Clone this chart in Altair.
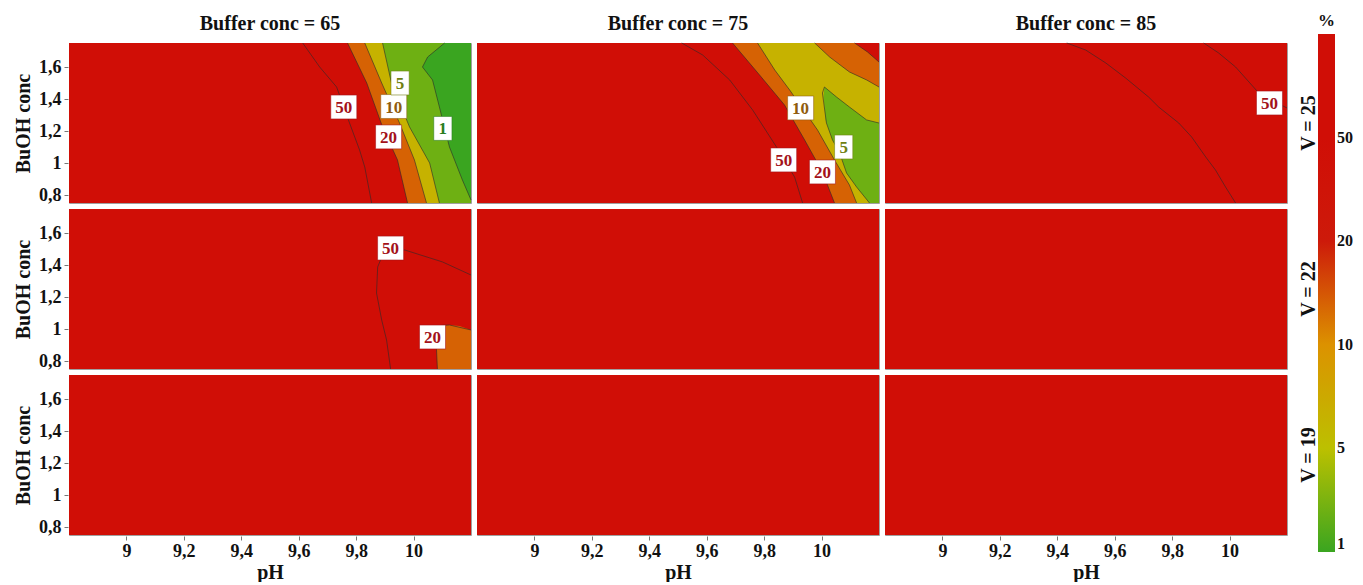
import altair as alt
import pandas as pd

FONT = "Liberation Serif"
X_MIN, X_MAX = 8.8, 10.2
Y_MIN, Y_MAX = 0.75, 1.75

BUFFERS = [65, 75, 85]
VOLS = [25, 22, 19]

X_TICKS = [9, 9.2, 9.4, 9.6, 9.8, 10]
Y_TICKS = [0.8, 1, 1.2, 1.4, 1.6]

# legend: percent stops shown with equal spacing
LEGEND_LABELS = ["1", "5", "10", "20", "50"]
STOP_COLORS = ["#3aa520", "#bcc000", "#dc9200", "#cd1a0a", "#d00e06", "#d00e06"]

LEVELS = ["1", "5", "10", "20", "50"]
LABEL_COLORS = ["#2a7d1e", "#6f7f12", "#8f5c0e", "#a3121a", "#a3121a"]

# representative % value of each filled band
BAND_ABOVE20 = 80
BAND_10_20 = 14
BAND_5_10 = 6.5
BAND_1_5 = 2.6
BAND_BELOW1 = 1

# ---- V = 25, Buffer conc = 65 : contour lines (pH, BuOH)
B65V25_C50_PH = [9.614, 9.673, 9.732, 9.777, 9.812, 9.830, 9.854]
B65V25_C50_BU = [1.75, 1.60, 1.475, 1.25, 1.081, 0.975, 0.75]
B65V25_C20_PH = [9.770, 9.837, 9.892, 9.944, 9.979]
B65V25_C20_BU = [1.75, 1.50, 1.225, 1.019, 0.75]
B65V25_C10_PH = [9.830, 9.889, 9.951, 10.003, 10.045]
B65V25_C10_BU = [1.75, 1.50, 1.25, 1.019, 0.75]
B65V25_C5_PH = [9.892, 9.923, 9.986, 10.056, 10.090]
B65V25_C5_BU = [1.75, 1.50, 1.225, 1.0, 0.75]
B65V25_C1_PH = [10.108, 10.049, 10.031, 10.066, 10.090, 10.125, 10.170, 10.2]
B65V25_C1_BU = [1.75, 1.6625, 1.60, 1.519, 1.35, 1.10, 0.894, 0.769]

# ---- V = 25, Buffer conc = 75
B75V25_C50_PH = [9.513, 9.586, 9.680, 9.760, 9.843, 9.906, 9.934]
B75V25_C50_BU = [1.75, 1.675, 1.519, 1.331, 1.10, 0.9125, 0.75]
B75V25_C20_PH = [9.690, 9.784, 9.871, 9.941, 10.003, 10.045]
B75V25_C20_BU = [1.75, 1.55, 1.3625, 1.144, 0.944, 0.75]
B75V25_C10_PH = [9.777, 9.837, 9.889, 9.930, 9.986, 10.045, 10.097, 10.122]
B75V25_C10_BU = [1.75, 1.581, 1.456, 1.35, 1.206, 1.019, 0.8625, 0.75]
B75V25_C5_PH = [10.2, 10.157, 10.097, 10.052, 10.010, 10.003, 10.017, 10.038, 10.063, 10.087, 10.122, 10.167]
B75V25_C5_BU = [1.25, 1.269, 1.35, 1.4125, 1.475, 1.4375, 1.25, 1.144, 1.0625, 0.9375, 0.85, 0.75]
B75V25_C10R_PH = [9.976, 10.028, 10.097, 10.157, 10.2]
B75V25_C10R_BU = [1.75, 1.6625, 1.569, 1.519, 1.475]
B75V25_C20R_PH = [10.115, 10.160, 10.2]
B75V25_C20R_BU = [1.75, 1.694, 1.631]
# green pocket enclosed by the 5 % line
B75V25_P5_BU = [1.475, 1.4125, 1.35, 1.269, 1.25, 1.144, 1.0625, 0.9375, 0.85, 0.75]
B75V25_P5_L = [10.010, 10.007, 10.010, 10.014, 10.017, 10.038, 10.063, 10.087, 10.122, 10.167]
B75V25_P5_R = [10.010, 10.052, 10.097, 10.157, 10.2, 10.2, 10.2, 10.2, 10.2, 10.2]

# ---- V = 25, Buffer conc = 85
B85V25_CA_PH = [9.433, 9.499, 9.569, 9.638, 9.718, 9.753, 9.823, 9.868, 9.917, 9.951, 9.986, 10.021]
B85V25_CA_BU = [1.75, 1.706, 1.625, 1.531, 1.4125, 1.35, 1.25, 1.1625, 1.0375, 0.956, 0.85, 0.75]
B85V25_C50_PH = [9.910, 9.962, 10.021, 10.077, 10.108, 10.2]
B85V25_C50_BU = [1.75, 1.6875, 1.60, 1.4875, 1.425, 1.344]

# ---- V = 22, Buffer conc = 65
B65V22_C50_PH = [10.2, 10.101, 9.969, 9.892, 9.875, 9.871, 9.889, 9.906, 9.920]
B65V22_C50_BU = [1.3375, 1.419, 1.494, 1.4625, 1.3875, 1.225, 1.056, 0.931, 0.75]
B65V22_C20_PH = [10.2, 10.125, 10.066, 10.080, 10.083]
B65V22_C20_BU = [0.994, 1.025, 1.019, 0.869, 0.75]
B65V22_R20_BU = [1.025, 1.019, 0.994, 0.869, 0.75]
B65V22_R20_L = [10.125, 10.066, 10.070, 10.080, 10.083]
B65V22_R20_R = [10.125, 10.16, 10.2, 10.2, 10.2]

# ---- contour labels: buffer, V, level, pH, BuOH
LAB_BUF = [65, 65, 65, 65, 65, 75, 75, 75, 75, 85, 65, 65]
LAB_V = [25, 25, 25, 25, 25, 25, 25, 25, 25, 25, 22, 22]
LAB_LVL = ["50", "10", "5", "20", "1", "10", "50", "20", "5", "50", "50", "20"]
LAB_PH = [9.757, 9.931, 9.953, 9.913, 10.102, 9.927, 9.868, 10.003, 10.077, 10.139, 9.920, 10.066]
LAB_BU = [1.35, 1.353, 1.50, 1.163, 1.216, 1.344, 1.019, 0.944, 1.10, 1.375, 1.506, 0.95]

rows = []


def blab(b):
    return f"Buffer conc = {b}"


def vlab(v):
    return f"V = {v}"


def add_line(b, v, lid, xs, ys):
    for i, (x, y) in enumerate(zip(xs, ys)):
        rows.append(dict(kind="line", bl=blab(b), vl=vlab(v), lid=lid, ord=i, x=x, y=y))


def add_region(b, v, rid, stage, val, ys, xs, x2s):
    for y, x, x2 in zip(ys, xs, x2s):
        rows.append(dict(kind="region", bl=blab(b), vl=vlab(v), rid=rid, stage=stage,
                         v=val, y=y, x=x, x2=x2))


def add_right_of(b, v, rid, stage, val, xs, ys):
    add_region(b, v, rid, stage, val, ys, xs, [X_MAX] * len(xs))


# background of every panel
for b in BUFFERS:
    for v in VOLS:
        rows.append(dict(kind="bg", bl=blab(b), vl=vlab(v), v=BAND_ABOVE20,
                         x=X_MIN, x2=X_MAX, y=Y_MIN, y2=Y_MAX))

# filled bands
add_right_of(65, 25, "a20", 1, BAND_10_20, B65V25_C20_PH, B65V25_C20_BU)
add_right_of(65, 25, "a10", 2, BAND_5_10, B65V25_C10_PH, B65V25_C10_BU)
add_right_of(65, 25, "a5", 3, BAND_1_5, B65V25_C5_PH, B65V25_C5_BU)
add_right_of(65, 25, "a1", 4, BAND_BELOW1, B65V25_C1_PH, B65V25_C1_BU)

add_right_of(75, 25, "b20", 1, BAND_10_20, B75V25_C20_PH, B75V25_C20_BU)
add_right_of(75, 25, "b10", 2, BAND_5_10, B75V25_C10_PH, B75V25_C10_BU)
add_region(75, 25, "b5", 3, BAND_1_5, B75V25_P5_BU, B75V25_P5_L, B75V25_P5_R)
add_right_of(75, 25, "b10r", 5, BAND_10_20, B75V25_C10R_PH, B75V25_C10R_BU)
add_right_of(75, 25, "b20r", 6, BAND_ABOVE20, B75V25_C20R_PH, B75V25_C20R_BU)

add_region(65, 22, "c20", 1, BAND_10_20, B65V22_R20_BU, B65V22_R20_L, B65V22_R20_R)

# contour lines
add_line(65, 25, "a50", B65V25_C50_PH, B65V25_C50_BU)
add_line(65, 25, "a20", B65V25_C20_PH, B65V25_C20_BU)
add_line(65, 25, "a10", B65V25_C10_PH, B65V25_C10_BU)
add_line(65, 25, "a5", B65V25_C5_PH, B65V25_C5_BU)
add_line(65, 25, "a1", B65V25_C1_PH, B65V25_C1_BU)
add_line(75, 25, "b50", B75V25_C50_PH, B75V25_C50_BU)
add_line(75, 25, "b20", B75V25_C20_PH, B75V25_C20_BU)
add_line(75, 25, "b10", B75V25_C10_PH, B75V25_C10_BU)
add_line(75, 25, "b5", B75V25_C5_PH, B75V25_C5_BU)
add_line(75, 25, "b10r", B75V25_C10R_PH, B75V25_C10R_BU)
add_line(75, 25, "b20r", B75V25_C20R_PH, B75V25_C20R_BU)
add_line(85, 25, "dA", B85V25_CA_PH, B85V25_CA_BU)
add_line(85, 25, "d50", B85V25_C50_PH, B85V25_C50_BU)
add_line(65, 22, "c50", B65V22_C50_PH, B65V22_C50_BU)
add_line(65, 22, "c20", B65V22_C20_PH, B65V22_C20_BU)

for b, v, lvl, x, y in zip(LAB_BUF, LAB_V, LAB_LVL, LAB_PH, LAB_BU):
    rows.append(dict(kind="label", bl=blab(b), vl=vlab(v), lvl=lvl, x=x, y=y,
                     w="wide" if len(lvl) > 1 else "narrow"))

df = pd.DataFrame(rows)

x_axis = alt.Axis(title="pH", values=X_TICKS, labelExpr="replace(toString(datum.value), '.', ',')",
                  grid=False, domain=False, tickSize=4, tickColor="#777", labelPadding=2,
                  labelFont=FONT, labelFontWeight="bold", labelFontSize=18, labelColor="#111",
                  titleFont=FONT, titleFontWeight="bold", titleFontSize=20, titlePadding=2,
                  titleColor="#111")
y_axis = alt.Axis(title="BuOH conc", values=Y_TICKS, labelExpr="replace(toString(datum.value), '.', ',')",
                  grid=False, domain=False, tickSize=4, tickColor="#777", labelPadding=3,
                  labelFont=FONT, labelFontWeight="bold", labelFontSize=18, labelColor="#111",
                  titleFont=FONT, titleFontWeight="bold", titleFontSize=20, titlePadding=5,
                  titleColor="#111")
X = alt.X("x:Q", scale=alt.Scale(domain=[X_MIN, X_MAX], nice=False, zero=False), axis=x_axis)
Y = alt.Y("y:Q", scale=alt.Scale(domain=[Y_MIN, Y_MAX], nice=False, zero=False), axis=y_axis)

T_EXPR = ("datum.v <= 5 ? (datum.v - 1) / 4 : datum.v <= 10 ? 1 + (datum.v - 5) / 5 : "
          "datum.v <= 20 ? 2 + (datum.v - 10) / 10 : datum.v <= 50 ? 3 + (datum.v - 20) / 30 : "
          "4 + (datum.v - 50) / 50")

color = alt.Color(
    "t:Q",
    scale=alt.Scale(domain=[0, 1, 2, 3, 4, 5], range=STOP_COLORS, interpolate="rgb"),
    legend=alt.Legend(title="%", values=[0, 1, 2, 3, 4],
                      labelExpr="['1','5','10','20','50'][datum.value]",
                      gradientLength=518, gradientThickness=17, orient="none",
                      legendX=1249, legendY=-30,
                      titleFont=FONT, titleFontWeight="bold", titleFontSize=17, titlePadding=4,
                      labelFont=FONT, labelFontWeight="bold", labelFontSize=16, labelOffset=2,
                      gradientStrokeWidth=0, labelColor="#111", titleColor="#111"),
)

bg = (
    alt.Chart().mark_rect(strokeWidth=0)
    .transform_filter("datum.kind == 'bg'")
    .transform_calculate(t=T_EXPR)
    .encode(x=X, x2="x2:Q", y=Y, y2="y2:Q", color=color)
)

layers = [bg]
for s in range(1, 7):
    layers.append(
        alt.Chart().mark_area()
        .transform_filter(f"datum.kind == 'region' && datum.stage == {s}")
        .transform_calculate(t=T_EXPR)
        .encode(x=X, x2="x2:Q", y=Y, color=color, detail="rid:N")
    )

lines = (
    alt.Chart().mark_line(color="#2a2a2a", strokeWidth=0.8, opacity=0.75)
    .transform_filter("datum.kind == 'line'")
    .encode(x=X, y=Y, detail="lid:N", order="ord:Q")
)

P_WIDE = "M-1,-0.92L1,-0.92L1,0.92L-1,0.92Z"
P_NARROW = "M-0.7,-0.92L0.7,-0.92L0.7,0.92L-0.7,0.92Z"

boxes = (
    alt.Chart().mark_point(filled=True, fill="white", size=676, strokeWidth=1, opacity=1)
    .transform_filter("datum.kind == 'label'")
    .encode(
        x=X, y=Y,
        shape=alt.Shape("w:N", scale=alt.Scale(domain=["wide", "narrow"], range=[P_WIDE, P_NARROW]), legend=None),
        stroke=alt.Stroke("lvl:N", scale=alt.Scale(domain=LEVELS, range=LABEL_COLORS), legend=None),
        strokeOpacity=alt.value(0.55),
    )
)

texts = (
    alt.Chart().mark_text(font=FONT, fontWeight="bold", fontSize=17, align="center", baseline="middle", dy=1)
    .transform_filter("datum.kind == 'label'")
    .encode(
        x=X, y=Y, text="lvl:N",
        fill=alt.Fill("lvl:N", scale=alt.Scale(domain=LEVELS, range=LABEL_COLORS), legend=None),
    )
)

chart = (
    alt.layer(*layers, lines, boxes, texts)
    .properties(width=402, height=160)
    .facet(
        data=df,
        column=alt.Column("bl:N", sort=[blab(b) for b in BUFFERS],
                          header=alt.Header(title=None, labelFont=FONT, labelFontWeight="bold",
                                            labelFontSize=20, labelPadding=6, labelColor="#111")),
        row=alt.Row("vl:N", sort=[vlab(v) for v in VOLS],
                    header=alt.Header(title=None, labelOrient="right", labelAngle=270,
                                      labelFont=FONT, labelFontWeight="bold", labelFontSize=20,
                                      labelPadding=9, labelColor="#111", labelAlign="center")),
        spacing={"row": 2, "column": 2},
    )
    .properties(padding={"left": 5, "top": 5, "right": 0, "bottom": 0})
    .configure_view(stroke="#a0a0a0", strokeWidth=1)
)

chart.save("out.html", embed_options={"renderer": "svg", "actions": False})
